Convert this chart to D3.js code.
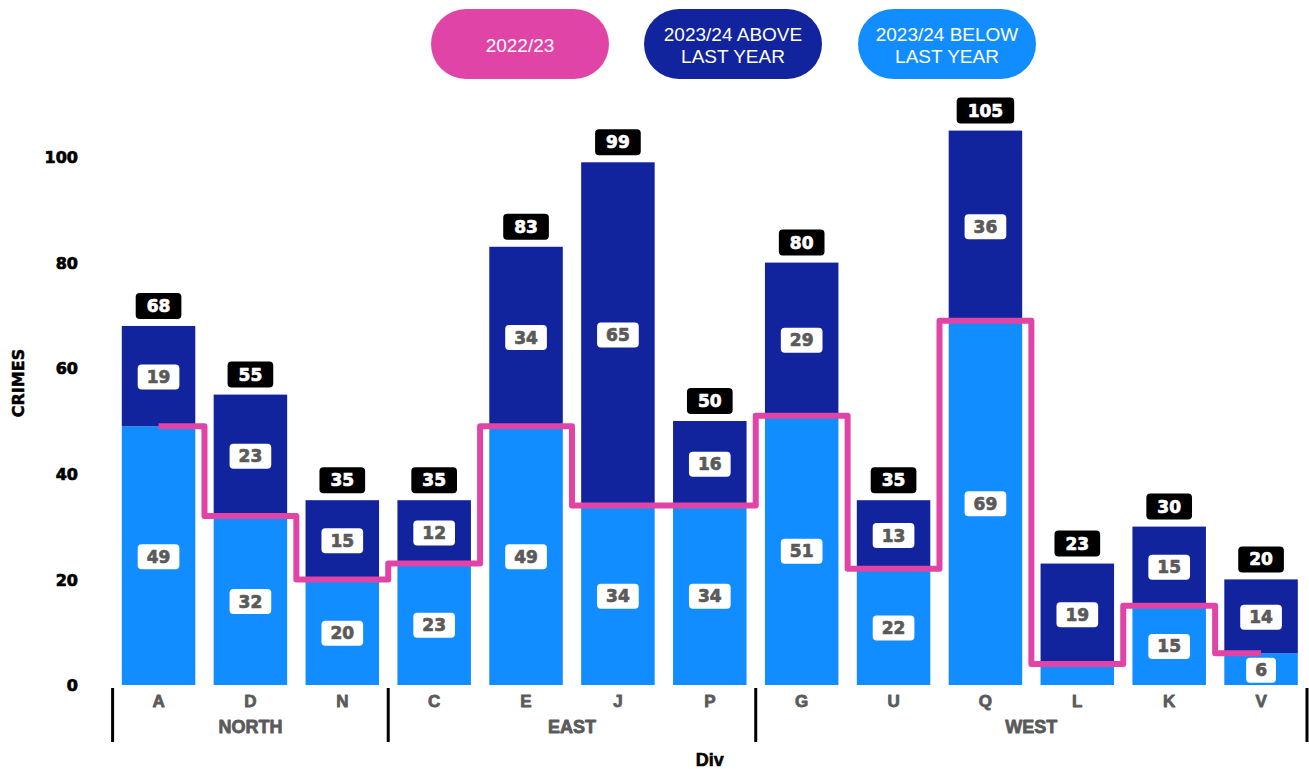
<!DOCTYPE html>
<html>
<head>
<meta charset="utf-8">
<script src="https://cdn.jsdelivr.net/npm/d3@7"></script>
<style>
  html, body { margin: 0; padding: 0; background: #fff; }
  svg { display: block; }
</style>
</head>
<body>
<svg id="chart" width="1309" height="769"></svg>
<script>
// ---- data ----
const categories = ["A","D","N","C","E","J","P","G","U","Q","L","K","V"];
const groups     = ["NORTH","NORTH","NORTH","EAST","EAST","EAST","EAST","WEST","WEST","WEST","WEST","WEST","WEST"];
const lastYear   = [49, 32, 20, 23, 49, 34, 34, 51, 22, 69, 4, 15, 6];      // 2022/23
const thisYear   = [68, 55, 35, 35, 83, 99, 50, 80, 35, 105, 23, 30, 20];  // 2023/24 totals
const yTicks     = [0, 20, 40, 60, 80, 100];
const legendItems = [
  {label: ["2022/23"], color: "#E044A7"},
  {label: ["2023/24 ABOVE", "LAST YEAR"], color: "#12239E"},
  {label: ["2023/24 BELOW", "LAST YEAR"], color: "#118DFF"}
];

const C_PINK = "#E044A7", C_DARK = "#12239E", C_LIGHT = "#118DFF", C_GREY = "#5a5a5a";

const rows = categories.map((c, i) => ({
  cat: c, group: groups[i], last: lastYear[i], total: thisYear[i],
  below: Math.min(lastYear[i], thisYear[i]),
  above: thisYear[i] - Math.min(lastYear[i], thisYear[i])
}));

const svg = d3.select("#chart");

// heavy text helper (thickens glyphs with a thin same-colour stroke)
function heavy(sel, color, sw) {
  return sel.attr("fill", color).attr("stroke", color).attr("stroke-width", sw)
    .attr("stroke-linejoin", "round");
}

const x = d3.scaleBand().domain(categories).range([112.6, 1307]).paddingInner(0.2).paddingOuter(0.1);
const y = d3.scaleLinear().domain([0, 100]).range([685, 157]);
const step = x.step(), bw = x.bandwidth();

// ---- y axis labels ----
const yAxis = svg.append("g").attr("transform", "translate(78,0)")
  .call(d3.axisLeft(y).tickValues(yTicks).tickSize(0).tickPadding(0));
yAxis.select(".domain").remove();
heavy(yAxis.selectAll("text")
  .attr("font-family", "DejaVu Sans").attr("font-weight", "bold").attr("font-size", 16)
  .attr("dy", "0.35em"), "#000", 0.7);

heavy(svg.append("text").attr("transform", "translate(18,383) rotate(-90)")
  .attr("text-anchor", "middle").attr("dominant-baseline", "central")
  .attr("font-family", "DejaVu Sans").attr("font-weight", "bold").attr("font-size", 16)
  .text("CRIMES"), "#000", 0.5);

// ---- bars ----
const barG = svg.append("g");
barG.selectAll("rect.below").data(rows).join("rect").attr("class", "below")
  .attr("x", d => x(d.cat)).attr("width", bw)
  .attr("y", d => y(d.below)).attr("height", d => y(0) - y(d.below))
  .attr("fill", C_LIGHT);
barG.selectAll("rect.above").data(rows).join("rect").attr("class", "above")
  .attr("x", d => x(d.cat)).attr("width", bw)
  .attr("y", d => y(d.total)).attr("height", d => y(d.below) - y(d.total))
  .attr("fill", C_DARK);

// ---- step line (last year) ----
const line = d3.line().curve(d3.curveStep)
  .x(d => x(d.cat) + bw / 2).y(d => y(d.last));
svg.append("path").datum(rows).attr("d", line)
  .attr("fill", "none").attr("stroke", C_PINK).attr("stroke-width", 6)
  .attr("stroke-linejoin", "round");

// ---- labels helper ----
function boxLabel(g, cx, cy, txt, opts) {
  const t = g.append("text").attr("x", cx).attr("y", cy)
    .attr("text-anchor", "middle").attr("dominant-baseline", "central")
    .attr("font-family", "DejaVu Sans").attr("font-weight", "bold")
    .attr("font-size", opts.size).text(txt);
  heavy(t, opts.textColor, 0.7);
  const w = t.node().getComputedTextLength() + opts.pad * 2;
  g.insert("rect", () => t.node())
    .attr("x", cx - w / 2).attr("y", cy - opts.h / 2)
    .attr("width", w).attr("height", opts.h).attr("rx", 4)
    .attr("fill", opts.fill);
}

const labG = svg.append("g");
rows.forEach(d => {
  const cx = x(d.cat) + bw / 2;
  if (d.below >= 5) {
    boxLabel(labG.append("g"), cx, y(d.below / 2) + 1, d.below, {size: 17, textColor: C_GREY, fill: "#fff", pad: 9, h: 25});
  }
  if (d.above >= 5) {
    boxLabel(labG.append("g"), cx, y(d.below + d.above / 2) + 1, d.above, {size: 17, textColor: C_GREY, fill: "#fff", pad: 9, h: 25});
  }
  boxLabel(labG.append("g"), cx, y(d.total) - 20, d.total, {size: 17, textColor: "#fff", fill: "#000", pad: 11, h: 26});
});

// ---- x axis (categories + groups) ----
const xAxisG = svg.append("g");
heavy(xAxisG.selectAll("text.cat").data(rows).join("text").attr("class", "cat")
  .attr("x", d => x(d.cat) + bw / 2).attr("y", 701)
  .attr("text-anchor", "middle").attr("dominant-baseline", "central")
  .attr("font-family", "Liberation Sans").attr("font-weight", "bold").attr("font-size", 17)
  .text(d => d.cat), C_GREY, 0.8);

const groupNames = Array.from(new Set(groups));
const groupSpans = groupNames.map(gn => {
  const cats = rows.filter(r => r.group === gn).map(r => r.cat);
  const x0 = x(cats[0]) - step * x.paddingInner() / 2;
  const x1 = x(cats[cats.length - 1]) + bw + step * x.paddingInner() / 2;
  return {name: gn, x0, x1};
});
heavy(xAxisG.selectAll("text.grp").data(groupSpans).join("text").attr("class", "grp")
  .attr("x", d => (d.x0 + d.x1) / 2).attr("y", 727)
  .attr("text-anchor", "middle").attr("dominant-baseline", "central")
  .attr("font-family", "Liberation Sans").attr("font-weight", "bold").attr("font-size", 18)
  .text(d => d.name), C_GREY, 0.8);

const seps = [groupSpans[0].x0].concat(groupSpans.map(d => d.x1));
xAxisG.selectAll("line.sep").data(seps).join("line").attr("class", "sep")
  .attr("x1", d => d).attr("x2", d => d).attr("y1", 688).attr("y2", 742)
  .attr("stroke", "#000").attr("stroke-width", 3);

heavy(svg.append("text").attr("x", (x.range()[0] + x.range()[1]) / 2).attr("y", 760)
  .attr("text-anchor", "middle").attr("dominant-baseline", "central")
  .attr("font-family", "Liberation Sans").attr("font-weight", "bold").attr("font-size", 18)
  .text("Div"), "#000", 0.6);

// ---- legend pills ----
const legX = [431, 644, 858];
const legG = svg.append("g");
legendItems.forEach((it, i) => {
  const g = legG.append("g").attr("transform", `translate(${legX[i]},9)`);
  g.append("rect").attr("width", 178).attr("height", 70).attr("rx", 35).attr("fill", it.color);
  const n = it.label.length;
  it.label.forEach((ln, j) => {
    g.append("text").attr("x", 89).attr("y", 36 + (j - (n - 1) / 2) * 22)
      .attr("text-anchor", "middle").attr("dominant-baseline", "central")
      .attr("font-family", "Liberation Sans").attr("font-size", 19)
      .attr("fill", "#fff").text(ln);
  });
});
</script>
</body>
</html>
